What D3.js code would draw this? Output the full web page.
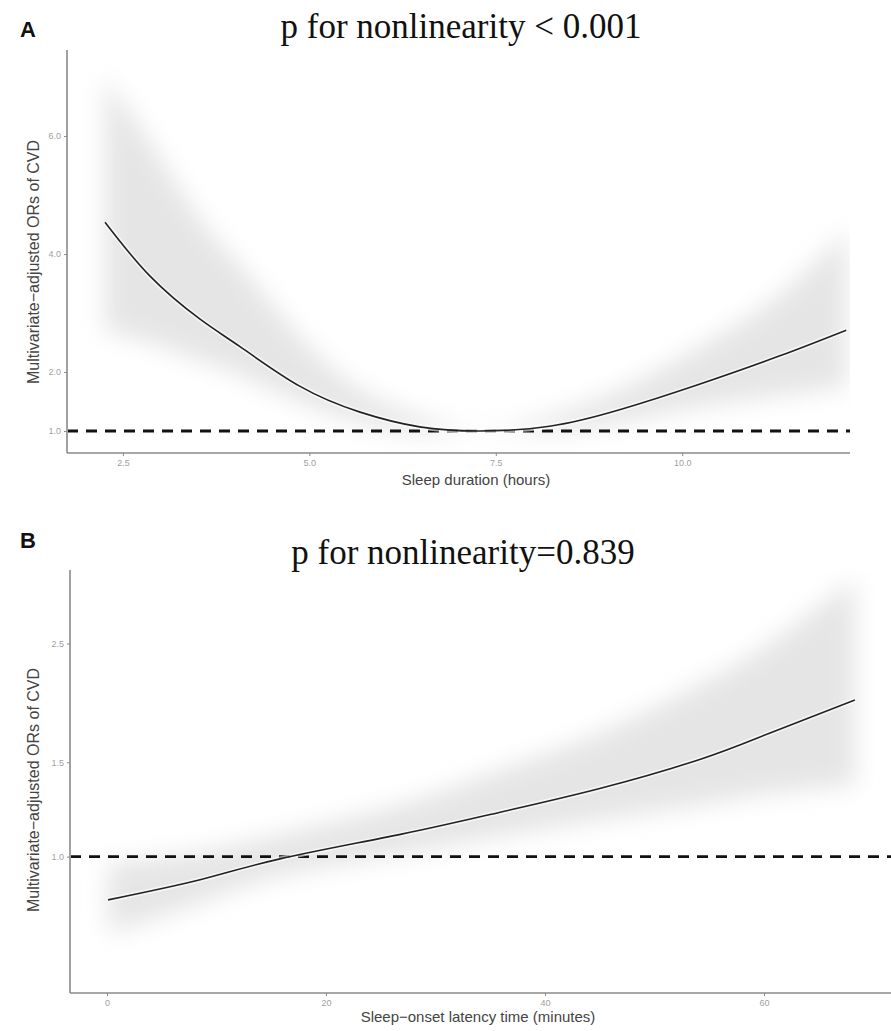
<!DOCTYPE html>
<html>
<head>
<meta charset="utf-8">
<script src="https://cdn.jsdelivr.net/npm/d3@7"></script>
<style>
body{margin:0;background:#fff}
svg{display:block}
</style>
</head>
<body>
<svg width="891" height="1031"></svg>
<script>
// ===== DATA =====
// panel A: sleep duration (hours)
const durHours = [2.26, 2.86, 3.53, 4.07, 4.87, 5.68, 6.48, 7.28, 8.22, 9.16, 10.2, 11.3, 12.2]
const durOR    = [4.54, 3.63, 2.90, 2.43, 1.76, 1.32, 1.07, 1.0, 1.08, 1.36, 1.78, 2.27, 2.71]
const durLower = [2.7, 2.5, 2.2, 1.95, 1.5, 1.15, 0.97, 0.99, 0.99, 1.15, 1.4, 1.6, 1.75]
const durUpper = [7.0, 5.9, 4.6, 3.8, 2.6, 1.7, 1.25, 1.02, 1.25, 1.7, 2.4, 3.3, 4.4]
const durXTicks = [2.5, 5.0, 7.5, 10.0]
const durYTicks = [1, 2, 4, 6]

// panel B: sleep-onset latency (minutes)
const latMin   = [0.1, 8.5, 15.8, 26.8, 35.9, 45.0, 54.2, 60.5, 68.3]
const latOR    = [0.83, 0.905, 0.99, 1.10, 1.21, 1.34, 1.52, 1.70, 1.96]
const latLower = [0.72, 0.82, 0.92, 1.01, 1.09, 1.17, 1.25, 1.31, 1.36]
const latUpper = [0.97, 1.02, 1.10, 1.25, 1.45, 1.70, 2.1, 2.5, 3.3]
const latXTicks = [0, 20, 40, 60]
const latYTicks = [1.0, 1.5, 2.5]

const svg = d3.select("svg")

// blur for the confidence band
const defs = svg.append("defs")
defs.append("filter")
.attr("id","soft")
.attr("x","-20%").attr("y","-20%").attr("width","140%").attr("height","140%")
.append("feGaussianBlur")
.attr("stdDeviation",12)

// ===== PANEL =====
function drawPanel(opt){

const x = d3.scaleLinear().domain(opt.xDomain).range([opt.left,opt.right])
const y = (opt.log ? d3.scaleLog() : d3.scaleLinear())
.domain(opt.yDomain).range([opt.bottom,opt.top])

const pts = opt.xs.map((v,i)=>({x:v,or:opt.or[i],lo:opt.lo[i],hi:opt.hi[i]}))

const clipId = "clip"+opt.letter
defs.append("clipPath").attr("id",clipId)
.append("rect")
.attr("x",opt.left+1).attr("y",opt.top)
.attr("width",opt.right-opt.left-1).attr("height",opt.bottom-opt.top)

const g = svg.append("g").attr("clip-path",`url(#${clipId})`)

// BAND
const area = d3.area()
.x(d=>x(d.x))
.y0(d=>y(d.lo))
.y1(d=>y(d.hi))
.curve(d3.curveNatural)

g.append("path")
.datum(pts)
.attr("d",area)
.attr("fill","#d4d4d4")
.attr("opacity",0.6)
.attr("filter","url(#soft)")

// REFERENCE LINE
g.append("line")
.attr("x1",opt.left).attr("x2",opt.right)
.attr("y1",y(1)).attr("y2",y(1))
.attr("stroke","#111")
.attr("stroke-width",2.8)
.attr("stroke-dasharray","11,8")

// CURVE
const line = d3.line()
.x(d=>x(d.x))
.y(d=>y(d.or))
.curve(d3.curveNatural)

g.append("path")
.datum(pts)
.attr("d",line)
.attr("fill","none")
.attr("stroke","#fff")
.attr("stroke-opacity",0.6)
.attr("stroke-width",5)

g.append("path")
.datum(pts)
.attr("d",line)
.attr("fill","none")
.attr("stroke","#222")
.attr("stroke-width",1.6)

// AXES
const ax = svg.append("g")
.attr("transform",`translate(0,${opt.bottom})`)
.call(d3.axisBottom(x).tickValues(opt.xTicks).tickSize(3).tickPadding(4).tickFormat(opt.xFmt))
const ay = svg.append("g")
.attr("transform",`translate(${opt.left},0)`)
.call(d3.axisLeft(y).tickValues(opt.yTicks).tickSize(3).tickPadding(3).tickFormat(d3.format(".1f")))

;[ax,ay].forEach(a=>{
  a.select(".domain").attr("stroke","#8a8a8a").attr("stroke-width",1.6)
  a.selectAll(".tick line").attr("stroke","#8a8a8a")
  a.selectAll(".tick text").attr("fill","#a0a0a0").style("font","9px 'Liberation Sans', Arial, sans-serif")
})
ay.select(".domain").attr("d",`M0,${opt.top}V${opt.bottom}`)
ax.select(".domain").attr("d",`M${opt.left},0H${opt.right}`)

// LABELS
svg.append("text")
.attr("x",opt.xLabelX)
.attr("y",opt.bottom+opt.xLabelGap)
.attr("text-anchor","middle")
.attr("fill","#444")
.style("font","15px 'Liberation Sans', Arial, sans-serif")
.text(opt.xLabel)

svg.append("text")
.attr("transform","rotate(-90)")
.attr("x",-opt.yLabelY)
.attr("y",39)
.attr("text-anchor","middle")
.attr("fill","#444")
.style("font","16px 'Liberation Sans', Arial, sans-serif")
.text("Multivariate\u2212adjusted ORs of CVD")

svg.append("text")
.attr("x",20)
.attr("y",opt.letterY)
.attr("fill","#111")
.style("font","bold 22px 'Liberation Sans', Arial, sans-serif")
.text(opt.letter)

svg.append("text")
.attr("x",opt.titleX)
.attr("y",opt.titleY)
.attr("text-anchor","middle")
.attr("fill","#111")
.style("font","35px 'Liberation Serif', 'Times New Roman', serif")
.text(opt.title)
}

drawPanel({
  letter:"A", letterY:37,
  title:"p for nonlinearity < 0.001",
  titleX:461, titleY:38,
  left:67, right:850, top:50, bottom:453,
  xDomain:[1.75,12.25], yDomain:[0.627,7.46], log:false,
  xs:durHours, or:durOR, lo:durLower, hi:durUpper,
  xTicks:durXTicks, yTicks:durYTicks,
  xFmt:d3.format(".1f"),
  xLabel:"Sleep duration (hours)", xLabelX:476, xLabelGap:32, yLabelY:262
})

drawPanel({
  letter:"B", letterY:548,
  title:"p for nonlinearity=0.839",
  titleX:463, titleY:564,
  left:70, right:891, top:570, bottom:993,
  xDomain:[-3.38,71.6], yDomain:[0.556,3.43], log:true,
  xs:latMin, or:latOR, lo:latLower, hi:latUpper,
  xTicks:latXTicks, yTicks:latYTicks,
  xFmt:d3.format("d"),
  xLabel:"Sleep\u2212onset latency time (minutes)", xLabelX:478, xLabelGap:29, yLabelY:790
})
</script>
</body>
</html>
